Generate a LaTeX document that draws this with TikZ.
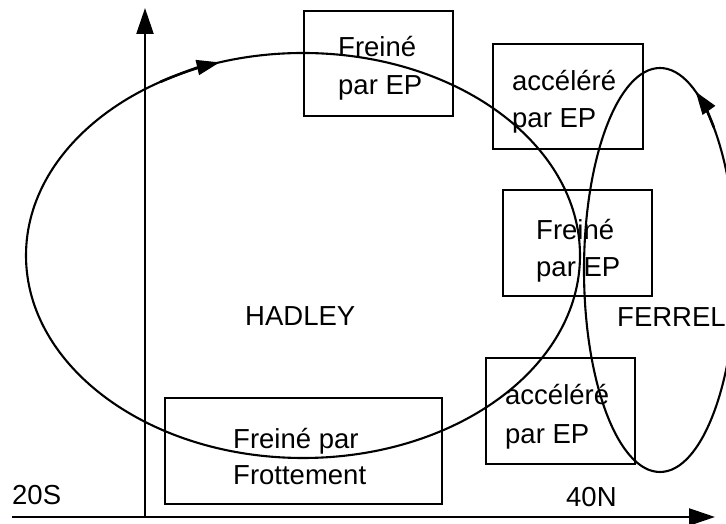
\documentclass[tikz,border=0pt]{standalone}
\usepackage{fontspec}
\setmainfont{Liberation Sans}
\usetikzlibrary{arrows.meta}
\begin{document}
\begin{tikzpicture}[x=1pt,y=1pt,
  box/.style={draw,line width=2.3pt,inner sep=0pt,anchor=south west},
  lbl/.style={anchor=base west,inner sep=0pt,font=\fontsize{27.5}{33}\selectfont},
  axis/.style={line width=2.3pt,-{Triangle[length=26pt,width=17pt]}},
  cell/.style={line width=2.1pt},
  flow/.style={line width=2.6pt,-{Triangle[length=23pt,width=15pt]}}]
\useasboundingbox (0,0) rectangle (726,524);
\clip (0,0) rectangle (726,524);
% axes
\coordinate (o) at (145,7);
\coordinate (xs) at (12,7);
\coordinate (xe) at (715,7);
\coordinate (ye) at (145,516);
\draw[axis] (xs) -- (xe);
\draw[axis] (o) -- (ye);
% boxes
\node[box,minimum width=149pt,minimum height=105pt] (b1) at (303,407) {};
\node[box,minimum width=150pt,minimum height=105pt] (b2) at (492,374) {};
\node[box,minimum width=149pt,minimum height=106pt] (b3) at (502,227) {};
\node[box,minimum width=149pt,minimum height=106pt] (b4) at (485,59) {};
\node[box,minimum width=277pt,minimum height=106pt] (b5) at (164,19) {};
% box texts
\node[lbl] (t1a) at (338,467) {Freiné};
\node[lbl] (t1b) at (338,429) {par EP};
\node[lbl] (t2a) at (512,433) {accéléré};
\node[lbl] (t2b) at (512,396) {par EP};
\node[lbl] (t3a) at (536,284) {Freiné};
\node[lbl] (t3b) at (536,247) {par EP};
\node[lbl] (t4a) at (505,119) {accéléré};
\node[lbl] (t4b) at (505,80) {par EP};
\node[lbl] (t5a) at (233,75) {Freiné par};
\node[lbl] (t5b) at (233,39) {Frottement};
% labels
\node[lbl] (had) at (245,198) {HADLEY};
\node[lbl] (fer) at (617,197) {FERREL};
\node[lbl] (s20) at (12,19) {20S};
\node[lbl] (n40) at (566,17) {40N};
% cells
\coordinate (hc) at (303,268.5);
\coordinate (fc) at (660,254);
\draw[cell] (hc) ellipse [x radius=277, y radius=202.5];
\draw[cell] (fc) ellipse [x radius=76, y radius=202];
% flow arrows
\draw[flow] ([shift={(121:277 and 202.5)}]hc) arc[start angle=121, end angle=107.5, x radius=277, y radius=202.5];
\draw[flow] ([shift={(45:76 and 202)}]fc) arc[start angle=45, end angle=62, x radius=76, y radius=202];
\end{tikzpicture}
\end{document}
